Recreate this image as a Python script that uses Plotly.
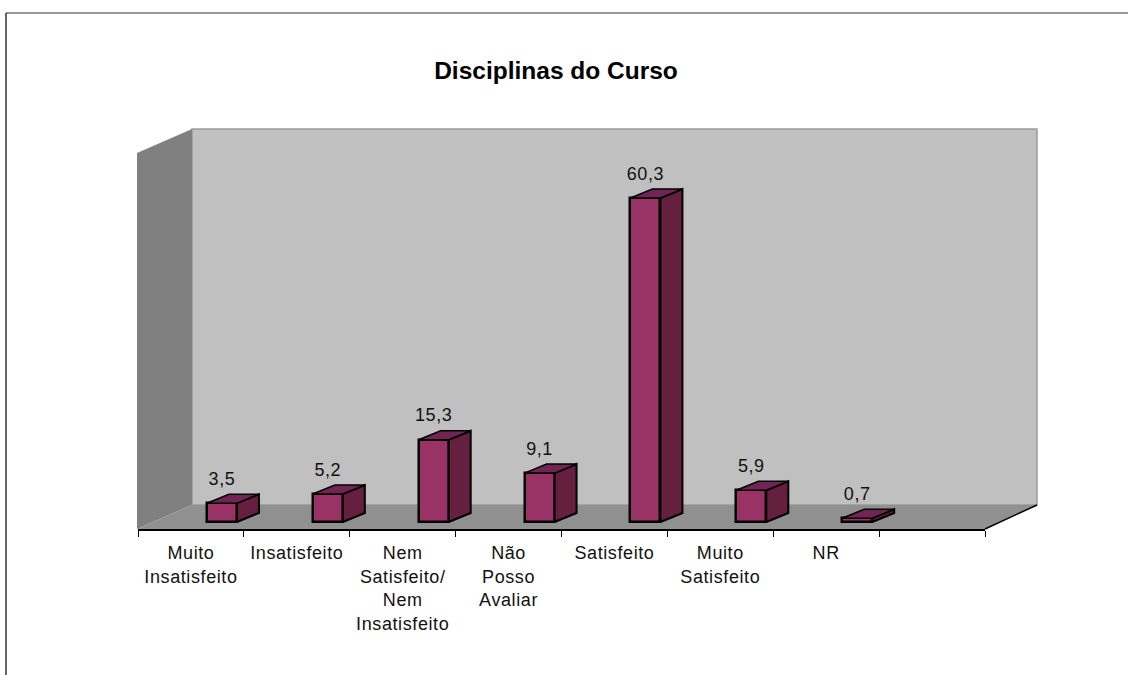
import plotly.graph_objects as go

title = "Disciplinas do Curso"
categories = ["Muito<br>Insatisfeito", "Insatisfeito", "Nem<br>Satisfeito/<br>Nem<br>Insatisfeito",
              "Não<br>Posso<br>Avaliar", "Satisfeito", "Muito<br>Satisfeito", "NR"]
values = [3.5, 5.2, 15.3, 9.1, 60.3, 5.9, 0.7]
value_labels = ["3,5", "5,2", "15,3", "9,1", "60,3", "5,9", "0,7"]

W, H = 1128, 675
L, R, T, B = 138, 985, 129, 529
BASE_PX = 522
PX_PER_UNIT = 324 / 60.3
SLOT_PX = (R - L) / 8
y_min = -(B - BASE_PX) / PX_PER_UNIT
y_max = (BASE_PX - T) / PX_PER_UNIT

BAR_W = 30 / SLOT_PX
DX = 22 / SLOT_PX
DY = 9 / PX_PER_UNIT
LABEL_GAP = 5 / PX_PER_UNIT
OFFSET = 31 / SLOT_PX
FRONT, SIDE, TOP = "#993366", "#65203F", "#702555"
slots = [i + 0.5 for i in range(len(categories))]
bar_x = [s + OFFSET for s in slots]


def px(x):
    return (x - L) / (R - L)


def py(y):
    return (B - y) / (B - T)


def poly(points):
    return "M " + " L ".join(f"{px(a)} {py(b)}" for a, b in points) + " Z"


def wall(points, fill, line=None, width=0):
    return dict(type="path", xref="paper", yref="paper", path=poly(points), fillcolor=fill,
                line=dict(color=line or fill, width=width), layer="below")


shapes = [
    wall([(192, 129), (1037, 129), (1037, 505), (192, 505)], "#C0C0C0", "#9A9A9A", 1.5),
    wall([(137, 153), (192, 129), (192, 505), (137, 529)], "#808080"),
    wall([(192, 505), (1037, 505), (985, 529), (137, 529)], "#909090"),
    dict(type="line", xref="paper", yref="paper", x0=px(985), y0=py(529), x1=px(1037), y1=py(505),
         line=dict(color="#000000", width=1.5)),
    dict(type="line", xref="paper", yref="paper", x0=px(6), y0=py(13), x1=px(1128), y1=py(13),
         line=dict(color="#333333", width=1.2)),
    dict(type="line", xref="paper", yref="paper", x0=px(6), y0=py(13), x1=px(6), y1=py(675),
         line=dict(color="#000000", width=1.2)),
]

fig = go.Figure()
fig.add_trace(go.Bar(x=bar_x, y=values, width=BAR_W, marker=dict(color=FRONT, line=dict(color="#000000", width=2.5)),
                     showlegend=False, hoverinfo="y"))

for x, v in zip(bar_x, values):
    x0, x1 = x - BAR_W / 2, x + BAR_W / 2
    fig.add_trace(go.Scatter(x=[x1, x1 + DX, x1 + DX, x1, x1], y=[0, DY, v + DY, v, 0], mode="lines", fill="toself",
                             fillcolor=SIDE, line=dict(color="#000000", width=2), showlegend=False, hoverinfo="skip"))
    fig.add_trace(go.Scatter(x=[x0, x0 + DX, x1 + DX, x1, x0], y=[v, v + DY, v + DY, v, v], mode="lines", fill="toself",
                             fillcolor=TOP, line=dict(color="#000000", width=1.5), showlegend=False, hoverinfo="skip"))

fig.add_trace(go.Scatter(x=bar_x, y=[v + DY + LABEL_GAP for v in values], mode="text", text=value_labels,
                         textposition="top center", textfont=dict(family="Liberation Sans", size=18, color="#111111"),
                         showlegend=False, hoverinfo="skip"))

fig.update_layout(
    width=W, height=H, autosize=False,
    margin=dict(l=L, r=W - R, t=T, b=H - B),
    paper_bgcolor="#FFFFFF", plot_bgcolor="rgba(0,0,0,0)",
    shapes=shapes,
    title=dict(text=f"<b>{title}</b>", x=556 / W, xanchor="center", y=1 - 70 / H, yanchor="middle",
               font=dict(family="Liberation Sans", size=24.5, color="#000000")),
    xaxis=dict(range=[0, 8], tickmode="array", tickvals=slots, ticktext=categories, ticks="",
               showgrid=False, zeroline=False, showline=True, linecolor="#000000", linewidth=1.5,
               tickfont=dict(family="Liberation Sans", size=18, color="#111111"), tickangle=0,
               ticklabelstandoff=7,
               minor=dict(tickmode="array", tickvals=list(range(9)), ticks="outside", ticklen=6,
                          tickwidth=1.2, tickcolor="#000000", showgrid=False)),
    yaxis=dict(range=[y_min, y_max], visible=False, showgrid=False, zeroline=False),
    bargap=0,
)

page_css = ("html,body{margin:0;padding:0;overflow:hidden}"
            ".xtick text,.textpoint text{letter-spacing:.6px}")
fig.write_html("out.html", config={"displayModeBar": False}, post_script=(
    "var s=document.createElement('style');s.textContent=" + repr(page_css) + ";document.head.appendChild(s);"
))
